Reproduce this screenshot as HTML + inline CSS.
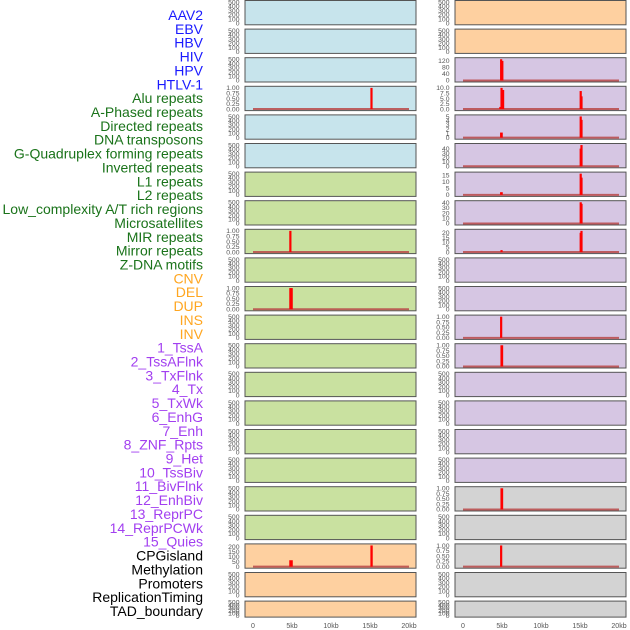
<!DOCTYPE html>
<html><head><meta charset="utf-8"><style>
html,body{margin:0;padding:0;background:#fff;}
svg{display:block;font-family:"Liberation Sans",sans-serif;}
</style></head><body>
<svg id="chart" width="630" height="630" viewBox="0 0 630 630"></svg>
<script>
const labelNames = ["AAV2","EBV","HBV","HIV","HPV","HTLV-1","Alu repeats","A-Phased repeats","Directed repeats","DNA transposons","G-Quadruplex forming repeats","Inverted repeats","L1 repeats","L2 repeats","Low_complexity A/T rich regions","Microsatellites","MIR repeats","Mirror repeats","Z-DNA motifs","CNV","DEL","DUP","INS","INV","1_TssA","2_TssAFlnk","3_TxFlnk","4_Tx","5_TxWk","6_EnhG","7_Enh","8_ZNF_Rpts","9_Het","10_TssBiv","11_BivFlnk","12_EnhBiv","13_ReprPC","14_ReprPCWk","15_Quies","CPGisland","Methylation","Promoters","ReplicationTiming","TAD_boundary"];
const labelGroups = ["viral",6,"repeat",13,"sv",5,"chromhmm",15,"other",5];
const xTicks = [0,5000,10000,15000,20000];
const xTickLabels = ["0","5kb","10kb","15kb","20kb"];
const emptyTicks = [0,100,200,300,400,500];
const unitTicks = [0,0.25,0.5,0.75,1];
const unitTickLabels = ["0.00","0.25","0.50","0.75","1.00"];
const leftColors = ["blue","blue","blue","blue","blue","blue","green","green","green","green","green","green","green","green","green","green","green","green","green","orange","orange","orange"];
const rightColors = ["orange","orange","purple","purple","purple","purple","purple","purple","purple","purple","purple","purple","purple","purple","purple","purple","purple","gray","gray","gray","gray","gray"];
const leftBars = {3:[[15050,15300,1]], 8:[[4650,4900,1]], 10:[[4650,5100,1]], 19:[[4650,5100,65],[15050,15350,215]]};
const leftTicks = {3:unitTicks, 8:unitTicks, 10:unitTicks, 19:[0,50,100,150,200]};
const leftTickLabels = {3:unitTickLabels, 8:unitTickLabels, 10:unitTickLabels, 19:["0","50","100","150","200"]};
const rightBars = {
 2:[[4750,4900,130],[4900,5100,120]],
 3:[[4650,4800,1],[4800,5000,10],[5000,5100,9],[14950,15050,8.5],[15050,15150,6]],
 4:[[4750,5100,1.2],[14950,15050,5],[15050,15150,4.2]],
 5:[[14950,15050,40],[15050,15150,48]],
 6:[[4750,5100,2],[14950,15050,16],[15050,15150,13]],
 7:[[14950,15050,41],[15050,15150,38]],
 8:[[4800,5000,2],[14950,15050,20],[15050,15150,22]],
 11:[[4750,4950,1]], 12:[[4800,5150,1]], 17:[[4800,5150,1]], 19:[[4750,4900,1]]
};
const rightTicks = {2:[0,40,80,120],3:[0,2.5,5,7.5,10],4:[0,1,2,3,4,5],5:[0,10,20,30,40],6:[0,5,10,15],7:[0,10,20,30,40],8:[0,5,10,15,20],11:unitTicks,12:unitTicks,17:unitTicks,19:unitTicks};
const rightTickLabels = {2:["0","40","80","120"],3:["0.0","2.5","5.0","7.5","10.0"],4:["0","1","2","3","4","5"],5:["0","10","20","30","40"],6:["0","5","10","15"],7:["0","10","20","30","40"],8:["0","5","10","15","20"],11:unitTickLabels,12:unitTickLabels,17:unitTickLabels,19:unitTickLabels};

const NS="http://www.w3.org/2000/svg";
const svg=document.getElementById('chart');
const fills={blue:"#c7e4ec",green:"#c9e1a0",orange:"#fed0a0",purple:"#d6c6e3",gray:"#d3d3d3"};
const textColors={viral:"#1a1aff",repeat:"#1a731a",sv:"#ffa620",chromhmm:"#a23ff0",other:"#000"};
function mk(tag,attrs,parent){const e=document.createElementNS(NS,tag);for(const k in attrs)e.setAttribute(k,attrs[k]);(parent||svg).appendChild(e);return e;}

let li=0;
for(let g=0;g<labelGroups.length;g+=2){
  for(let j=0;j<labelGroups[g+1];j++){
    const t=mk('text',{x:203,y:20+li*13.86,'text-anchor':'end','font-size':'14',fill:textColors[labelGroups[g]]});
    
    
    t.textContent=labelNames[li]; li++;
  }
}

function panel(col,i,color,ticks,tlabels,bars){
  const px = col===0?245:455, pw=171;
  const top = 28.6*i, h = i===21?17:25.3;
  const x0 = col===0?253:463;
  const xs = v=>x0+v/20000*156;
  const g=mk('g',{});
  
  
  mk('rect',{x:px,y:top+0.5,width:pw,height:h-1,fill:fills[color],stroke:'#555','stroke-width':1},g);
  let M = Math.max(...ticks);
  if(bars){const mt=Math.max(...bars.map(b=>b[2]));M=Math.max(mt,Math.max(...ticks));}
  const lo=-0.05*M, hi=1.05*M;
  const ys=v=>top+h-1-(v-lo)/(hi-lo)*(h-2);
  ticks.forEach((tv,k)=>{
    const t=mk('text',{x:px-5.5,y:ys(tv)+2.3,'text-anchor':'end','font-size':'6.8',fill:'#555'},g);
    
    
    t.textContent=tlabels?tlabels[k]:String(tv);
  });
  if(bars){
    mk('line',{x1:xs(0),x2:xs(20000),y1:ys(0),y2:ys(0),stroke:'#b84848','stroke-width':2,'stroke-opacity':0.85},g);
    bars.forEach(b=>{
      const r=mk('rect',{x:xs(b[0]),y:ys(b[2]),width:Math.max(2.2,xs(b[1])-xs(b[0])),height:ys(0)-ys(b[2]),fill:'#ff0000'},g);
      
      
    });
  }
  if(i===21){
    xTicks.forEach((v,k)=>{
      const t=mk('text',{x:xs(v),y:628,'text-anchor':'middle','font-size':'7',fill:'#555'});
      
      
      t.textContent=xTickLabels[k];
    });
  }
}
for(let i=0;i<22;i++){
  panel(0,i,leftColors[i],leftTicks[i]||emptyTicks,leftTickLabels[i],leftBars[i]);
  panel(1,i,rightColors[i],rightTicks[i]||emptyTicks,rightTickLabels[i],rightBars[i]);
}
</script>
</body></html>
